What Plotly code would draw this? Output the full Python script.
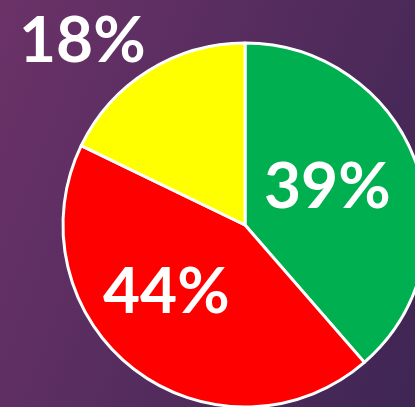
import base64

import plotly.graph_objects as go

# Slice data, clockwise from 12 o'clock
labels = ['Green', 'Red', 'Yellow']
values = [39, 44, 18]
slice_text = ['39%', '44%', '18%']
colors = ['#00B050', '#FF0000', '#FFFF00']

# Label anchor points in window pixels (x, y from top)
label_pos = [(327, 183), (166, 288), (82, 38)]

# Figure is bigger than the window so the pie spills past the edges
W, H = 500, 450

# Purple gradient background as an inline svg
svg = (
    '<svg xmlns="http://www.w3.org/2000/svg" width="100" height="100" '
    'preserveAspectRatio="none">'
    '<defs><linearGradient id="g" x1="0" y1="0" x2="1" y2="0.35">'
    '<stop offset="0" stop-color="#6b3268"/>'
    '<stop offset="1" stop-color="#3f2654"/>'
    '</linearGradient></defs>'
    '<rect width="100" height="100" fill="url(#g)"/></svg>'
)
bg_src = 'data:image/svg+xml;base64,' + base64.b64encode(svg.encode()).decode()

fig = go.Figure(
    go.Pie(
        labels=labels,
        values=values,
        textinfo='none',
        sort=False,
        direction='clockwise',
        rotation=0,
        marker=dict(colors=colors, line=dict(color='white', width=3)),
        domain=dict(x=[63 / W, 427 / W], y=[43 / H, 407 / H]),
        showlegend=False,
        hoverinfo='skip',
    )
)

# Percent labels
for txt, (px_x, px_y) in zip(slice_text, label_pos):
    fig.add_annotation(
        text=txt,
        x=px_x / W,
        y=1 - px_y / H,
        xref='paper',
        yref='paper',
        xanchor='center',
        yanchor='middle',
        showarrow=False,
        font=dict(family='Lato', size=64, color='white', weight='bold'),
    )

fig.add_layout_image(
    source=bg_src,
    xref='paper',
    yref='paper',
    x=0,
    y=1,
    sizex=1,
    sizey=1,
    sizing='stretch',
    xanchor='left',
    yanchor='top',
    layer='below',
)

fig.update_layout(
    width=W,
    height=H,
    margin=dict(l=0, r=0, t=0, b=0),
    paper_bgcolor='#58305f',
    plot_bgcolor='rgba(0,0,0,0)',
)

fig.write_html(
    'out.html',
    config={'displayModeBar': False},
    post_script=(
        "document.body.style.margin='0';"
        "document.body.style.overflow='hidden';"
        "document.documentElement.style.overflow='hidden';"
    ),
)
